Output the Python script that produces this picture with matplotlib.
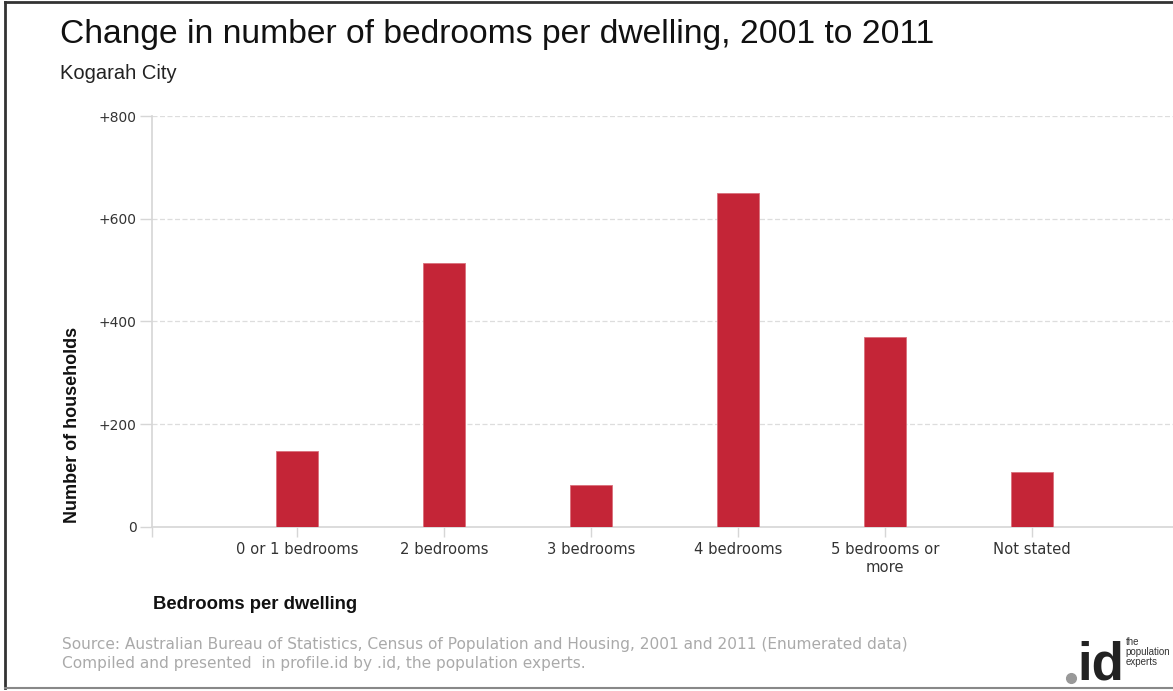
import matplotlib
matplotlib.use("Agg")
from matplotlib import pyplot as plt
from matplotlib.lines import Line2D

plt.rcParams['font.family'] = ['Liberation Sans', 'DejaVu Sans']

# Change in households 2001 -> 2011
categories = ["0 or 1 bedrooms", "2 bedrooms", "3 bedrooms", "4 bedrooms",
              "5 bedrooms or\nmore", "Not stated"]
change = [148, 513, 81, 650, 370, 106]
y_ticks = [0, 200, 400, 600, 800]
y_labels = ["0", "+200", "+400", "+600", "+800"]

bar_color = "#C42537"
axis_color = "#D6D6D6"
label_font = ['DejaVu Sans']

fig = plt.figure(figsize=(11.73, 6.91), dpi=100)
ax = fig.add_axes([0.1293, 0.2378, 0.8707, 0.5943])

pos = list(range(len(categories)))
ax.bar(pos, change, width=0.29, color=bar_color, edgecolor="#d9707b",
       linewidth=0.6, zorder=3)

ax.set_xlim(-0.99, 5.96)
ax.set_ylim(0, 800)

ax.set_yticks(y_ticks)
ax.set_yticklabels(y_labels, fontsize=10, color="#333333", family=label_font)
ax.set_xticks([-0.99] + pos)
ax.set_xticklabels([""] + categories, fontsize=10.6, color="#333333",
                   family=label_font, linespacing=1.25)
ax.tick_params(axis="y", length=9, width=1, color=axis_color, pad=2)
ax.tick_params(axis="x", length=7, width=1, color=axis_color, pad=4)

for v in y_ticks[1:]:
    ax.axhline(v, color="#DDDDDD", linestyle=(0, (4, 2)), linewidth=0.9, zorder=1)

for side in ["top", "right"]:
    ax.spines[side].set_visible(False)
for side in ["left", "bottom"]:
    ax.spines[side].set_color(axis_color)
    ax.spines[side].set_linewidth(1.2)

ax.set_ylabel("Number of households", fontsize=13, fontweight="bold",
              color="#111111")
ax.yaxis.set_label_coords(-0.069, 0.2485)

fig.text(0.0512, 0.9494, "Change in number of bedrooms per dwelling, 2001 to 2011",
         fontsize=24.2, color="#111111", va="center", ha="left")
fig.text(0.0512, 0.894, "Kogarah City", fontsize=14.5, color="#222222",
         va="center", ha="left")
fig.text(0.1304, 0.1245, "Bedrooms per dwelling", fontsize=13.3, fontweight="bold",
         color="#111111", va="center", ha="left")

fig.text(0.0529, 0.0680, "Source: Australian Bureau of Statistics, Census of Population and Housing, 2001 and 2011 (Enumerated data)",
         fontsize=11.05, color="#AAAAAA", va="center", ha="left", family=label_font)
fig.text(0.0529, 0.0395, "Compiled and presented  in profile.id by .id, the population experts.",
         fontsize=11.05, color="#AAAAAA", va="center", ha="left", family=label_font)

# .id logo
fig.add_artist(Line2D([0.9131], [0.0195], marker="o", markersize=7,
                      color="#999999", transform=fig.transFigure))
fig.text(0.9185, 0.016, "id", fontsize=38, fontweight="bold", color="#222222",
         va="baseline", ha="left")
fig.text(0.9598, 0.0565, "the\npopulation\nexperts", fontsize=7, color="#333333",
         va="center", ha="left", linespacing=1.05)

# frame around the figure
fig.add_artist(Line2D([0.0045, 0.0045], [0.004, 0.997], color="#333333", linewidth=2,
                      transform=fig.transFigure))
fig.add_artist(Line2D([0.0045, 1.0], [0.997, 0.997], color="#333333", linewidth=2,
                      transform=fig.transFigure))
fig.add_artist(Line2D([0.0045, 1.0], [0.004, 0.004], color="#888888", linewidth=1.5,
                      transform=fig.transFigure))

fig.savefig("out.png", dpi=100)
